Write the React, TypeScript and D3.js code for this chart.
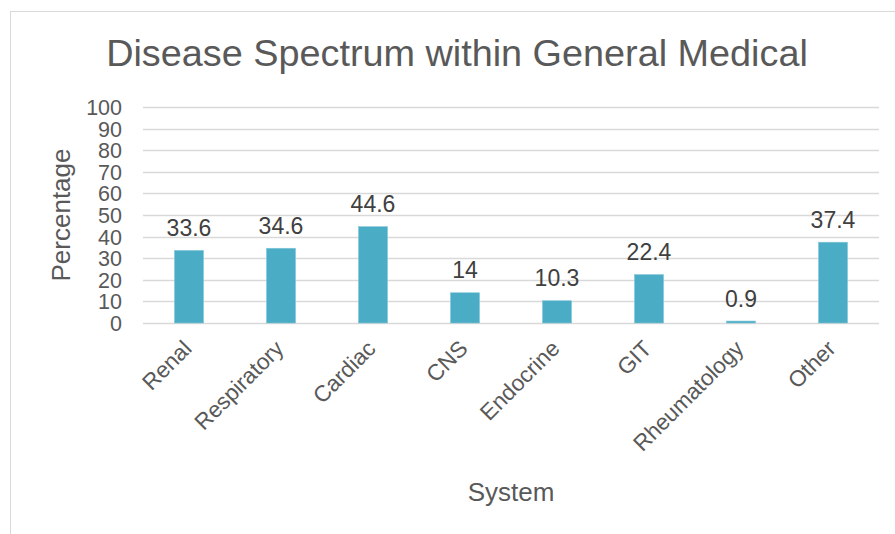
import React, { useEffect, useRef } from "react";
import * as d3 from "d3";

const categories = ["Renal", "Respiratory", "Cardiac", "CNS", "Endocrine", "GIT", "Rheumatology", "Other"];
const values = [33.6, 34.6, 44.6, 14, 10.3, 22.4, 0.9, 37.4];
const yTicks = [0, 10, 20, 30, 40, 50, 60, 70, 80, 90, 100];

const App = () => {
  const svgRef = useRef<SVGSVGElement>(null);

  useEffect(() => {
    const W = 895, H = 534;
    const font = "'Liberation Sans', Arial, sans-serif";
    const svg = d3.select(svgRef.current).attr("width", W).attr("height", H);
    svg.selectAll("*").remove();

    // chart border (left and top visible)
    svg.append("rect")
      .attr("x", 10.5).attr("y", 11.5)
      .attr("width", 900).attr("height", 600)
      .attr("fill", "white").attr("stroke", "#d9d9d9").attr("stroke-width", 1);

    const left = 143, right = 879, top = 107, bottom = 323;

    const x = d3.scaleBand().domain(categories).range([left, right]);
    const y = d3.scaleLinear().domain([0, 100]).range([bottom, top]);

    // gridlines
    svg.append("g")
      .selectAll("line")
      .data(yTicks)
      .enter()
      .append("line")
      .attr("x1", left).attr("x2", right)
      .attr("y1", (d) => Math.round(y(d)) + 0.5)
      .attr("y2", (d) => Math.round(y(d)) + 0.5)
      .attr("stroke", "#d9d9d9").attr("stroke-width", 1.5);

    // y tick labels (tightly packed, as in the original)
    svg.append("g")
      .selectAll("text")
      .data(yTicks)
      .enter()
      .append("text")
      .attr("x", 122)
      .attr("y", (d) => y(d) + 8)
      .attr("text-anchor", "end")
      .attr("font-family", font)
      .attr("font-size", 21.5)
      .attr("fill", "#595959")
      .text((d) => d);

    const bw = x.bandwidth() * 0.315;

    svg.append("g")
      .selectAll("rect")
      .data(values)
      .enter()
      .append("rect")
      .attr("x", (d, i) => x(categories[i])! + x.bandwidth() / 2 - bw / 2)
      .attr("y", (d) => y(d))
      .attr("width", bw)
      .attr("height", (d) => bottom - y(d))
      .attr("fill", "#4bacc6")
      .attr("stroke", "#7fc6d8")
      .attr("stroke-width", 0.6);

    // value labels
    svg.append("g")
      .selectAll("text")
      .data(values)
      .enter()
      .append("text")
      .attr("x", (d, i) => x(categories[i])! + x.bandwidth() / 2)
      .attr("y", (d) => y(d) - 14.5)
      .attr("text-anchor", "middle")
      .attr("font-family", font)
      .attr("font-size", 23)
      .attr("fill", "#404040")
      .text((d) => d);

    // category labels
    svg.append("g")
      .selectAll("text")
      .data(categories)
      .enter()
      .append("text")
      .attr("transform", (d) => `translate(${x(d)! + x.bandwidth() / 2 + 4},${bottom + 27}) rotate(-45)`)
      .attr("text-anchor", "end")
      .attr("font-family", font)
      .attr("font-size", 22.5)
      .attr("fill", "#595959")
      .text((d) => d);

    // title
    svg.append("text")
      .attr("x", 457)
      .attr("y", 66)
      .attr("text-anchor", "middle")
      .attr("font-family", font)
      .attr("font-size", 37.8)
      .attr("fill", "#595959")
      .text("Disease Spectrum within General Medical");

    // axis titles
    svg.append("text")
      .attr("transform", `translate(70,${(top + bottom) / 2}) rotate(-90)`)
      .attr("text-anchor", "middle")
      .attr("font-family", font)
      .attr("font-size", 26)
      .attr("fill", "#595959")
      .text("Percentage");

    svg.append("text")
      .attr("x", (left + right) / 2)
      .attr("y", 501)
      .attr("text-anchor", "middle")
      .attr("font-family", font)
      .attr("font-size", 26)
      .attr("fill", "#595959")
      .text("System");
  }, []);

  return <svg ref={svgRef} style={{ position: "absolute", left: 0, top: 0 }}></svg>;
};

export default App;
